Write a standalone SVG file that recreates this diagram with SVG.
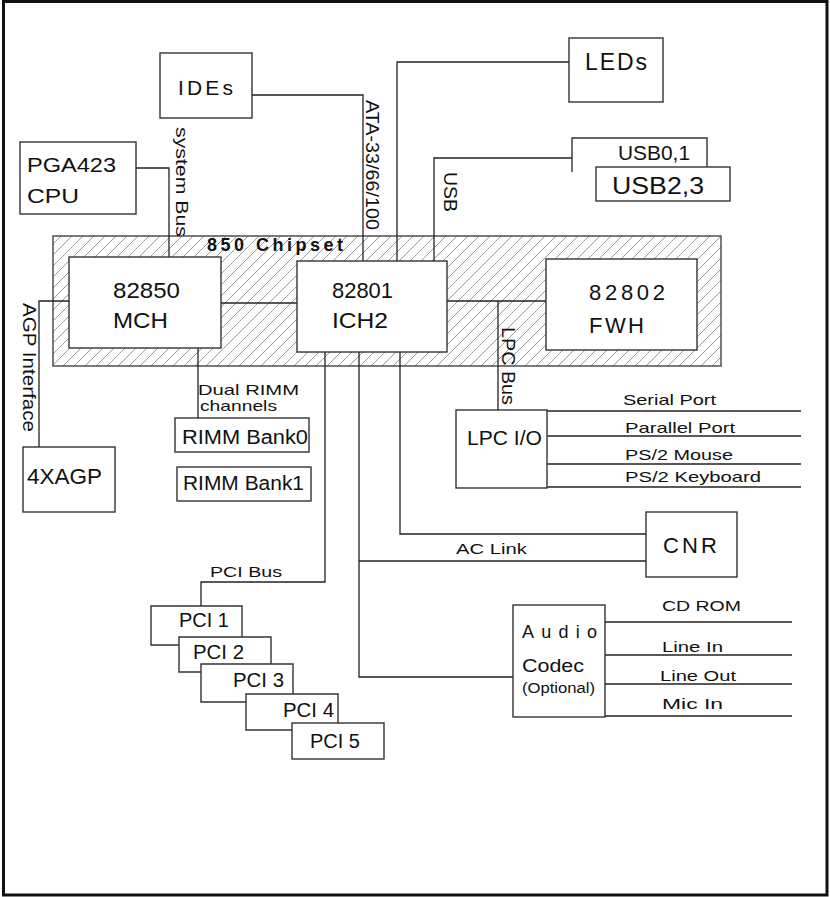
<svg xmlns="http://www.w3.org/2000/svg" width="830" height="897" viewBox="0 0 830 897">
<defs>
<pattern id="hatch" patternUnits="userSpaceOnUse" width="11" height="11">
<path d="M0,11 L11,0 M-2,2 L2,-2 M9,13 L13,9" stroke="#9a9a9a" stroke-width="1"/>
</pattern>
<style>
.box{fill:#fff;stroke:#333;stroke-width:1.4}
.ln{fill:none;stroke:#222;stroke-width:1.3}
text{font-family:"Liberation Sans",Arial,sans-serif;fill:#111}
.big{font-size:21px}
.mid{font-size:20px}
.sm{font-size:15px}
.rot{font-size:18px}
</style>
</defs>
<rect x="3.5" y="1.5" width="823.5" height="893.5" fill="#fff" stroke="#111" stroke-width="3"/>

<g id="chipset">
<rect x="53" y="236" width="668" height="130" fill="url(#hatch)" stroke="#444" stroke-width="1.4"/>
<text x="207" y="251" font-size="18" font-weight="bold" textLength="136" lengthAdjust="spacing">850 Chipset</text>
</g>

<g id="connectors">
<polyline class="ln" points="252,95 363,95 363,261"/>
<polyline class="ln" points="569,62 397,62 397,261"/>
<polyline class="ln" points="572,158 434,158 434,261"/>
<polyline class="ln" points="136,168 169,168 169,257"/>
<polyline class="ln" points="69,301 39,301 39,447"/>
<line class="ln" x1="221" y1="303" x2="297" y2="303"/>
<line class="ln" x1="447" y1="301" x2="546" y2="301"/>
<line class="ln" x1="498" y1="301" x2="498" y2="410"/>
<line class="ln" x1="198" y1="348" x2="198" y2="418"/>
<polyline class="ln" points="325,352 325,582 201,582 201,606"/>
<polyline class="ln" points="359,352 359,677 513,677"/>
<line class="ln" x1="359" y1="561" x2="646" y2="561"/>
<polyline class="ln" points="400,352 400,534 646,534"/>
<line class="ln" x1="547" y1="411" x2="801" y2="411"/>
<line class="ln" x1="547" y1="436" x2="801" y2="436"/>
<line class="ln" x1="547" y1="464" x2="801" y2="464"/>
<line class="ln" x1="547" y1="487" x2="801" y2="487"/>
<line class="ln" x1="605" y1="622" x2="792" y2="622"/>
<line class="ln" x1="605" y1="655" x2="792" y2="655"/>
<line class="ln" x1="605" y1="684" x2="792" y2="684"/>
<line class="ln" x1="605" y1="716" x2="792" y2="716"/>
<text transform="translate(175.5,127) rotate(90)" font-size="17" textLength="110" lengthAdjust="spacingAndGlyphs">system  Bus</text>
<text transform="translate(366,100) rotate(90)" class="rot" textLength="130" lengthAdjust="spacingAndGlyphs">ATA-33/66/100</text>
<text transform="translate(444,172) rotate(90)" class="rot" textLength="40" lengthAdjust="spacingAndGlyphs">USB</text>
<text transform="translate(502,327) rotate(90)" class="rot" textLength="78" lengthAdjust="spacingAndGlyphs">LPC Bus</text>
<text transform="translate(23,303) rotate(90)" class="rot" textLength="129" lengthAdjust="spacingAndGlyphs">AGP  Interface</text>
<text x="198" y="395" font-size="15" textLength="101" lengthAdjust="spacingAndGlyphs">Dual  RIMM</text>
<text x="200" y="411" font-size="15" textLength="77" lengthAdjust="spacingAndGlyphs">channels</text>
<text x="210" y="577" class="sm" textLength="72" lengthAdjust="spacingAndGlyphs">PCI  Bus</text>
<text x="456" y="554" class="sm" textLength="71" lengthAdjust="spacingAndGlyphs">AC  Link</text>
<text x="623" y="405" class="sm" textLength="93" lengthAdjust="spacingAndGlyphs">Serial Port</text>
<text x="625" y="433" class="sm" textLength="110" lengthAdjust="spacingAndGlyphs">Parallel Port</text>
<text x="625" y="460" class="sm" textLength="108" lengthAdjust="spacingAndGlyphs">PS/2 Mouse</text>
<text x="625" y="482" class="sm" textLength="136" lengthAdjust="spacingAndGlyphs">PS/2  Keyboard</text>
<text x="662" y="611" class="sm" textLength="79" lengthAdjust="spacingAndGlyphs">CD  ROM</text>
<text x="662" y="652" class="sm" textLength="61" lengthAdjust="spacingAndGlyphs">Line  In</text>
<text x="660" y="681" class="sm" textLength="76" lengthAdjust="spacingAndGlyphs">Line Out</text>
<text x="662" y="709" class="sm" textLength="61" lengthAdjust="spacingAndGlyphs">Mic  In</text>
</g>

<g id="ides">
<rect class="box" x="160" y="53" width="92" height="65"/>
<text x="178" y="95" class="big" textLength="55" lengthAdjust="spacing">IDEs</text>
</g>
<g id="leds">
<rect class="box" x="569" y="38" width="94" height="64"/>
<text x="585" y="70" font-size="23" textLength="62" lengthAdjust="spacing">LEDs</text>
</g>
<g id="cpu">
<rect class="box" x="20" y="142" width="116" height="72"/>
<text x="27" y="172" class="big" textLength="89" lengthAdjust="spacingAndGlyphs">PGA423</text>
<text x="27" y="203" class="big" textLength="52" lengthAdjust="spacingAndGlyphs">CPU</text>
</g>
<g id="usb01">
<path class="box" d="M572,172 V138 H707 V167"/>
<text x="618" y="160" class="big" textLength="72" lengthAdjust="spacingAndGlyphs">USB0,1</text>
</g>
<g id="usb23">
<rect class="box" x="596" y="167" width="134" height="34"/>
<text x="612" y="194" font-size="23" textLength="92" lengthAdjust="spacingAndGlyphs">USB2,3</text>
</g>
<g id="mch">
<rect class="box" x="69" y="257" width="152" height="91"/>
<text x="113" y="298" font-size="22" textLength="67" lengthAdjust="spacingAndGlyphs">82850</text>
<text x="113" y="328" font-size="22" textLength="55" lengthAdjust="spacingAndGlyphs">MCH</text>
</g>
<g id="ich2">
<rect class="box" x="297" y="261" width="150" height="91"/>
<text x="332" y="298" font-size="22" textLength="61" lengthAdjust="spacingAndGlyphs">82801</text>
<text x="332" y="328" font-size="22" textLength="56" lengthAdjust="spacingAndGlyphs">ICH2</text>
</g>
<g id="fwh">
<rect class="box" x="546" y="259" width="151" height="91"/>
<text x="589" y="300" font-size="22" textLength="76" lengthAdjust="spacing">82802</text>
<text x="589" y="333" font-size="22" textLength="55" lengthAdjust="spacing">FWH</text>
</g>
<g id="agp">
<rect class="box" x="23" y="447" width="92" height="65"/>
<text x="27" y="484" font-size="22" textLength="75" lengthAdjust="spacingAndGlyphs">4XAGP</text>
</g>
<g id="rimm0">
<rect class="box" x="175" y="418" width="134" height="34"/>
<text x="182" y="444" class="mid" textLength="126" lengthAdjust="spacingAndGlyphs">RIMM Bank0</text>
</g>
<g id="rimm1">
<rect class="box" x="177" y="467" width="134" height="34"/>
<text x="183" y="490" class="mid" textLength="121" lengthAdjust="spacingAndGlyphs">RIMM Bank1</text>
</g>
<g id="lpcio">
<rect class="box" x="456" y="410" width="91" height="78"/>
<text x="467" y="445" class="big" textLength="75" lengthAdjust="spacingAndGlyphs">LPC I/O</text>
</g>
<g id="cnr">
<rect class="box" x="646" y="512" width="91" height="65"/>
<text x="663" y="553" font-size="22" textLength="54" lengthAdjust="spacing">CNR</text>
</g>
<g id="pci1">
<path class="box" d="M179,645 H151 V606 H242 V637"/>
<text x="179" y="627" class="mid" textLength="50" lengthAdjust="spacingAndGlyphs">PCI 1</text>
</g>
<g id="pci2">
<path class="box" d="M201,672 H179 V637 H271 V664"/>
<text x="193" y="659" class="mid" textLength="51" lengthAdjust="spacingAndGlyphs">PCI 2</text>
</g>
<g id="pci3">
<path class="box" d="M246,702 H201 V664 H293 V694"/>
<text x="233" y="687" class="mid" textLength="51" lengthAdjust="spacingAndGlyphs">PCI 3</text>
</g>
<g id="pci4">
<path class="box" d="M292,730 H246 V694 H338 V723"/>
<text x="283" y="717" class="mid" textLength="51" lengthAdjust="spacingAndGlyphs">PCI 4</text>
</g>
<g id="pci5">
<rect class="box" x="292" y="723" width="92" height="36"/>
<text x="310" y="748" class="mid" textLength="50" lengthAdjust="spacingAndGlyphs">PCI 5</text>
</g>
<g id="audio">
<rect class="box" x="513" y="605" width="92" height="112"/>
<text x="522" y="638" font-size="18" textLength="75" lengthAdjust="spacing">Audio</text>
<text x="522" y="672" font-size="18" textLength="62" lengthAdjust="spacingAndGlyphs">Codec</text>
<text x="522" y="693" font-size="14" textLength="73" lengthAdjust="spacingAndGlyphs">(Optional)</text>
</g>
</svg>
